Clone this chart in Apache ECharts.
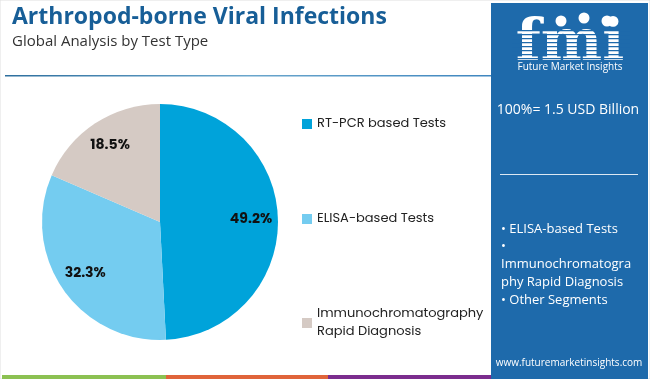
<!DOCTYPE html>
<html><head><meta charset="utf-8">
<script src="https://cdn.jsdelivr.net/npm/echarts@6/dist/echarts.min.js"></script>
<style>html,body{margin:0;padding:0;background:#fff}#c{width:650px;height:379px}</style>
</head><body><div id="c"></div>
<script>
const categories = ['RT-PCR based Tests', 'ELISA-based Tests', 'Immunochromatography Rapid Diagnosis'];
const values = [49.2, 32.3, 18.5];
const sliceColors = ['#00a3da', '#74ccf0', '#d5cac4'];
const panelItems = ['• ELISA-based Tests', '•', 'Immunochromatogra', 'phy Rapid Diagnosis', '• Other Segments'];

const chart = echarts.init(document.getElementById('c'), null, {renderer: 'canvas'});
const data = categories.map((n, i) => ({name: n, value: values[i], itemStyle: {color: sliceColors[i]}}));
const FONT = 'Poppins, "Open Sans", sans-serif';
const PANEL = '#1e6aab';

const legendTops = [110, 205, 300];
const legends = categories.map((n, i) => ({
  data: [n], orient: 'vertical', left: 297, top: legendTops[i],
  icon: 'rect', itemWidth: 10, itemHeight: 10, itemGap: 6,
  selectedMode: false,
  textStyle: {fontFamily: FONT, fontSize: 13, color: '#222', lineHeight: 18},
  formatter: name => name.replace('Immunochromatography ', 'Immunochromatography\n')
}));

const graphics = [
  {type: 'rect', shape: {x: 0, y: 0, width: 650, height: 379}, style: {fill: 'none', stroke: '#e0e0e0', lineWidth: 1}, silent: true},
  {type: 'text', left: 12, top: 6, style: {text: 'Arthropod-borne Viral Infections', font: 'bold 23px "Open Sans", sans-serif', fill: '#175e97'}},
  {type: 'text', left: 12, top: 34, style: {text: 'Global Analysis by Test Type', font: '15px "Open Sans", sans-serif', fill: '#333'}},
  {type: 'rect', shape: {x: 5, y: 75, width: 486, height: 1.5}, style: {fill: new echarts.graphic.LinearGradient(0, 0, 1, 0, [{offset: 0, color: '#2e6f9e'}, {offset: 0.5, color: '#6aa6cc'}, {offset: 1, color: '#3f86bf'}])}},
  // bottom stripes
  {type: 'rect', shape: {x: 2, y: 375, width: 164, height: 4}, style: {fill: '#8cc152'}},
  {type: 'rect', shape: {x: 166, y: 375, width: 162, height: 4}, style: {fill: '#e0643a'}},
  {type: 'rect', shape: {x: 328, y: 375, width: 164, height: 4}, style: {fill: '#7b2d8e'}},
  // right panel
  {type: 'rect', shape: {x: 491, y: 3, width: 157, height: 376}, style: {fill: PANEL}},
  {type: 'text', x: 570, y: 45, style: {text: 'fmi', font: 'bold 58px "DejaVu Serif", serif', fill: '#fff', align: 'center', verticalAlign: 'middle'}},
];
for (let k = 0; k < 9; k++) {
  graphics.push({type: 'rect', shape: {x: 512, y: 30 + k * 4, width: 118, height: 1.3}, style: {fill: PANEL}});
}
graphics.push(
  {type: 'circle', shape: {cx: 561, cy: 21, r: 5.5}, style: {fill: '#fff'}},
  {type: 'circle', shape: {cx: 584, cy: 18, r: 5.5}, style: {fill: '#fff'}},
  {type: 'circle', shape: {cx: 607, cy: 21, r: 5.5}, style: {fill: '#fff'}},
  {type: 'text', x: 570, y: 67, style: {text: 'Future Market Insights', font: '10px "Open Sans", sans-serif', fill: '#fff', align: 'center', verticalAlign: 'middle'}},
  {type: 'text', x: 568, y: 110, style: {text: '100%= 1.5 USD Billion', font: '14px "Open Sans", sans-serif', fill: '#fff', align: 'center', verticalAlign: 'middle'}},
  {type: 'rect', shape: {x: 500, y: 174, width: 138, height: 1}, style: {fill: '#dce8f3'}},
  {type: 'text', x: 569, y: 363, style: {text: 'www.futuremarketinsights.com', font: '10px "Open Sans", sans-serif', fill: '#fff', align: 'center', verticalAlign: 'middle'}}
);
const itemYs = [229, 246, 264, 282, 300];
panelItems.forEach((t, i) => graphics.push({type: 'text', x: 501, y: itemYs[i], style: {text: t, font: '13px "Open Sans", sans-serif', fill: '#fff', verticalAlign: 'middle'}}));

chart.setOption({
  animation: false,
  legend: legends,
  graphic: graphics,
  series: [
    {
      type: 'pie', center: [160, 222], radius: [0, 118], startAngle: 90, clockwise: true,
      data: data, label: {show: false}, labelLine: {show: false}, silent: true
    },
    {
      type: 'pie', center: [160, 222], radius: [70, 106], startAngle: 90, clockwise: true,
      data: categories.map((n, i) => ({name: n, value: values[i], itemStyle: {color: 'rgba(0,0,0,0)'}})),
      legendHoverLink: false, silent: true,
      label: {show: true, position: 'inside', formatter: p => p.value.toFixed(1) + '%', fontFamily: FONT, fontWeight: 'bold', fontSize: 14, color: '#111'},
      labelLine: {show: false}
    }
  ]
});
</script></body></html>
